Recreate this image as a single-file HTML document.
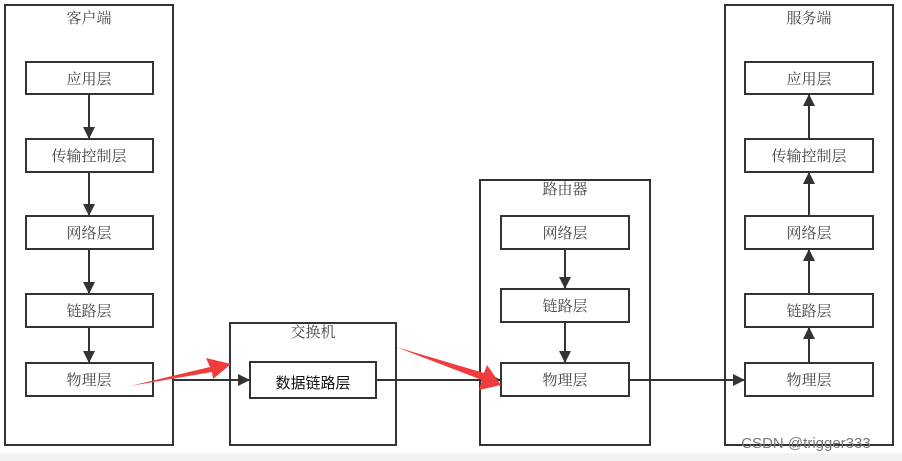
<!DOCTYPE html>
<html><head><meta charset="utf-8"><style>
html,body{margin:0;padding:0;background:#fff;}
svg{display:block;}
text{font-family:"Liberation Serif","Noto Serif CJK SC",serif;fill:#444;font-size:15px;text-anchor:middle;}
</style></head><body>
<svg width="902" height="461" viewBox="0 0 902 461" xmlns="http://www.w3.org/2000/svg">
<defs><marker id="a" markerWidth="12" markerHeight="12" refX="12" refY="6" orient="auto" markerUnits="userSpaceOnUse"><path d="M0,0 L12,6 L0,12 Z" fill="#333"/></marker></defs>
<rect x="0" y="453" width="902" height="8" fill="#f2f2f2"/>
<g fill="none" stroke="#333" stroke-width="2">
<rect x="5" y="5" width="168" height="440"/>
<rect x="230" y="323" width="166" height="122"/>
<rect x="480" y="180" width="170" height="265"/>
<rect x="725" y="5" width="168" height="440"/>
<rect x="26" y="62" width="127" height="32"/>
<rect x="26" y="139" width="127" height="33"/>
<rect x="26" y="216" width="127" height="33"/>
<rect x="26" y="294" width="127" height="33"/>
<rect x="26" y="363" width="127" height="33"/>
<rect x="250" y="362" width="126" height="36"/>
<rect x="501" y="216" width="128" height="33"/>
<rect x="501" y="289" width="128" height="33"/>
<rect x="501" y="363" width="128" height="33"/>
<rect x="745" y="62" width="128" height="32"/>
<rect x="745" y="139" width="128" height="33"/>
<rect x="745" y="216" width="128" height="33"/>
<rect x="745" y="294" width="128" height="33"/>
<rect x="745" y="363" width="128" height="33"/>
</g>
<g stroke="#333" stroke-width="2" marker-end="url(#a)">
<line x1="89" y1="94" x2="89" y2="139"/>
<line x1="89" y1="172" x2="89" y2="216"/>
<line x1="89" y1="249" x2="89" y2="294"/>
<line x1="89" y1="327" x2="89" y2="363"/>
<line x1="173" y1="380" x2="250" y2="380"/>
<line x1="376" y1="380" x2="501" y2="380"/>
<line x1="565" y1="249" x2="565" y2="289"/>
<line x1="565" y1="322" x2="565" y2="363"/>
<line x1="629" y1="380" x2="745" y2="380"/>
<line x1="809" y1="363" x2="809" y2="327"/>
<line x1="809" y1="294" x2="809" y2="249"/>
<line x1="809" y1="216" x2="809" y2="172"/>
<line x1="809" y1="139" x2="809" y2="94"/>
</g>
<path d="M130,386 L210,367 L206,358 L231,364 L213,379 L212,372 Z" fill="#f03c3c"/>
<path d="M396,347 L484,373 L487,365 L501,385 L479,390 L482,380 Z" fill="#f03c3c"/>
<text x="89" y="23" font-size="16">客户端</text>
<text x="313" y="337">交换机</text>
<text x="565" y="194">路由器</text>
<text x="809" y="23" font-size="16">服务端</text>
<text x="89" y="84">应用层</text>
<text x="89" y="161">传输控制层</text>
<text x="89" y="238">网络层</text>
<text x="89" y="316">链路层</text>
<text x="89" y="385">物理层</text>
<text x="313" y="388" font-size="18" style="font-family:'Liberation Sans','Noto Sans CJK SC',sans-serif;fill:#111">数据链路层</text>
<text x="565" y="238">网络层</text>
<text x="565" y="311">链路层</text>
<text x="565" y="385">物理层</text>
<text x="809" y="84">应用层</text>
<text x="809" y="161">传输控制层</text>
<text x="809" y="238">网络层</text>
<text x="809" y="316">链路层</text>
<text x="809" y="385">物理层</text>
<text x="806" y="448" font-size="18" style="font-family:'Liberation Sans',sans-serif;fill:#777">CSDN @trigger333</text>
</svg>
</body></html>
